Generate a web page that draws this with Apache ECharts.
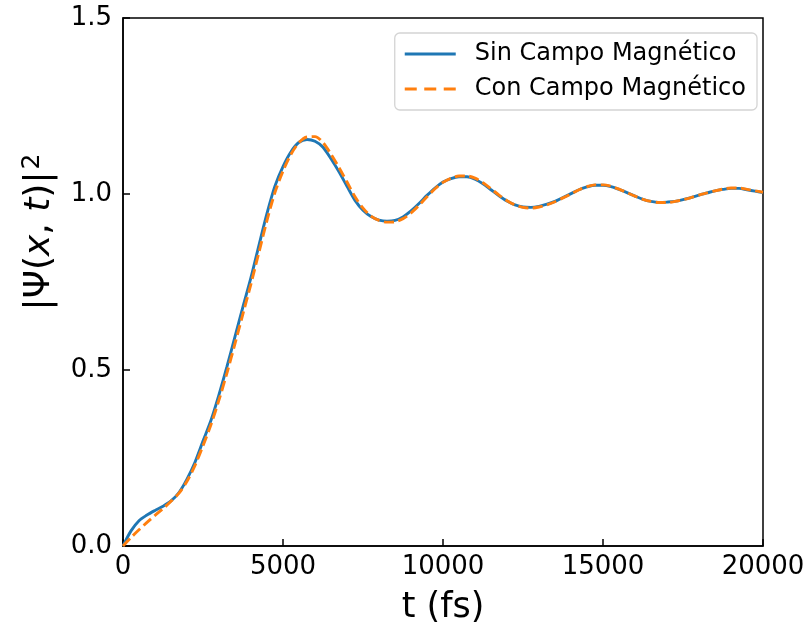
<!DOCTYPE html>
<html><head><meta charset="utf-8">
<script src="https://cdn.jsdelivr.net/npm/echarts@6/dist/echarts.min.js"></script>
<style>html,body{margin:0;padding:0;background:#fff}#c{width:812px;height:630px}</style>
</head><body><div id="c"></div>
<script>
const times = [0,250,500,750,1000,1250,1500,1750,2000,2250,2500,2750,3000,3250,3500,3750,4000,4250,4500,4750,5000,5250,5500,5750,6000,6250,6500,6750,7000,7250,7500,7750,8000,8250,8500,8750,9000,9250,9500,9750,10000,10250,10500,10750,11000,11250,11500,11750,12000,12250,12500,12750,13000,13250,13500,13750,14000,14250,14500,14750,15000,15250,15500,15750,16000,16250,16500,16750,17000,17250,17500,17750,18000,18250,18500,18750,19000,19250,19500,19750,20000];
const sinCampo = [0,0.043,0.072,0.088,0.101,0.113,0.128,0.152,0.19,0.238,0.298,0.357,0.43,0.51,0.595,0.68,0.763,0.855,0.945,1.023,1.078,1.12,1.147,1.155,1.15,1.133,1.1,1.063,1.022,0.982,0.954,0.936,0.926,0.923,0.925,0.935,0.952,0.973,0.996,1.017,1.034,1.044,1.049,1.049,1.042,1.029,1.012,0.995,0.98,0.969,0.963,0.962,0.965,0.971,0.979,0.99,1.001,1.012,1.02,1.025,1.025,1.021,1.013,1.004,0.994,0.985,0.979,0.976,0.977,0.979,0.984,0.99,0.997,1.003,1.009,1.013,1.016,1.016,1.012,1.008,1.004];
const conCampo = [0,0.024,0.046,0.067,0.087,0.106,0.127,0.15,0.184,0.229,0.285,0.345,0.415,0.492,0.575,0.66,0.745,0.835,0.925,1.005,1.065,1.113,1.146,1.162,1.163,1.146,1.113,1.075,1.034,0.992,0.96,0.937,0.925,0.92,0.921,0.93,0.946,0.968,0.992,1.015,1.033,1.045,1.051,1.051,1.045,1.032,1.015,0.997,0.981,0.969,0.962,0.96,0.963,0.969,0.978,0.989,1.0,1.012,1.021,1.026,1.026,1.022,1.014,1.004,0.994,0.985,0.979,0.976,0.976,0.979,0.984,0.99,0.997,1.003,1.009,1.014,1.017,1.017,1.013,1.009,1.005];
const seriesNames = ['Sin Campo Magnético','Con Campo Magnético'];
const xTicks = [0,5000,10000,15000,20000];
const yTicks = [0,0.5,1.0,1.5];

const chart = echarts.init(document.getElementById('c'));
const font = 'DejaVu Sans';
chart.setOption({
  animation:false,
  backgroundColor:'#fff',
  grid:{left:123,right:49,top:18,bottom:81,show:true,borderColor:'#000',borderWidth:1.5,backgroundColor:'transparent'},
  legend:{
    orient:'vertical', right:55, top:33,
    backgroundColor:'#fff', borderColor:'#d4d4d4', borderWidth:1.3, borderRadius:5,
    padding:[9,11,9,10], itemGap:11, itemWidth:51, itemHeight:3,
    textStyle:{fontFamily:font,fontSize:24,color:'#000',padding:[0,0,0,14]},
    data:[
      {name:seriesNames[0],icon:'path://M0,0H51V3H0Z',itemStyle:{color:'#1f77b4'}},
      {name:seriesNames[1],icon:'path://M0,0H12V3H0Z M19.5,0H31.5V3H19.5Z M39,0H51V3H39Z',itemStyle:{color:'#ff7f0e'}}
    ]
  },
  graphic:[{
    type:'text', x:40, y:232, rotation:Math.PI/2,
    style:{
      text:'|Ψ({i|x}, {i|t})|{sup|2}',
      font:'36px "DejaVu Sans"', fill:'#000', align:'center', verticalAlign:'middle',
      rich:{i:{fontFamily:font,fontSize:36,fontStyle:'italic',fill:'#000'},
            sup:{fontFamily:font,fontSize:25,fill:'#000',verticalAlign:'top',padding:[0,0,16,2]}}
    }
  }],
  xAxis:{
    type:'value',min:0,max:20000,interval:5000,
    name:'t (fs)',nameLocation:'middle',nameGap:44,
    nameTextStyle:{fontFamily:font,fontSize:35,color:'#000'},
    axisLine:{show:true,lineStyle:{color:'#000',width:1.5}},
    axisTick:{show:true,inside:true,length:7,lineStyle:{color:'#000',width:1.5}},
    axisLabel:{fontFamily:font,fontSize:26,color:'#000',margin:8,formatter:v=>xTicks.includes(v)?String(v):''},
    splitLine:{show:false}
  },
  yAxis:{
    type:'value',min:0,max:1.5,interval:0.5,
    axisLine:{show:true,lineStyle:{color:'#000',width:1.5}},
    axisTick:{show:true,inside:true,length:7,lineStyle:{color:'#000',width:1.5}},
    axisLabel:{fontFamily:font,fontSize:26,color:'#000',margin:11,formatter:v=>yTicks.includes(v)?v.toFixed(1):''},
    splitLine:{show:false}
  },
  series:[
    {name:seriesNames[0],type:'line',smooth:0.3,showSymbol:false,symbol:'none',
     data:times.map((t,i)=>[t,sinCampo[i]]),
     lineStyle:{color:'#1f77b4',width:2.9},itemStyle:{color:'#1f77b4'}},
    {name:seriesNames[1],type:'line',smooth:0.3,showSymbol:false,symbol:'none',
     data:times.map((t,i)=>[t,conCampo[i]]),
     lineStyle:{color:'#ff7f0e',width:2.9,type:[10,4.5]},itemStyle:{color:'#ff7f0e'}}
  ]
});
</script></body></html>
